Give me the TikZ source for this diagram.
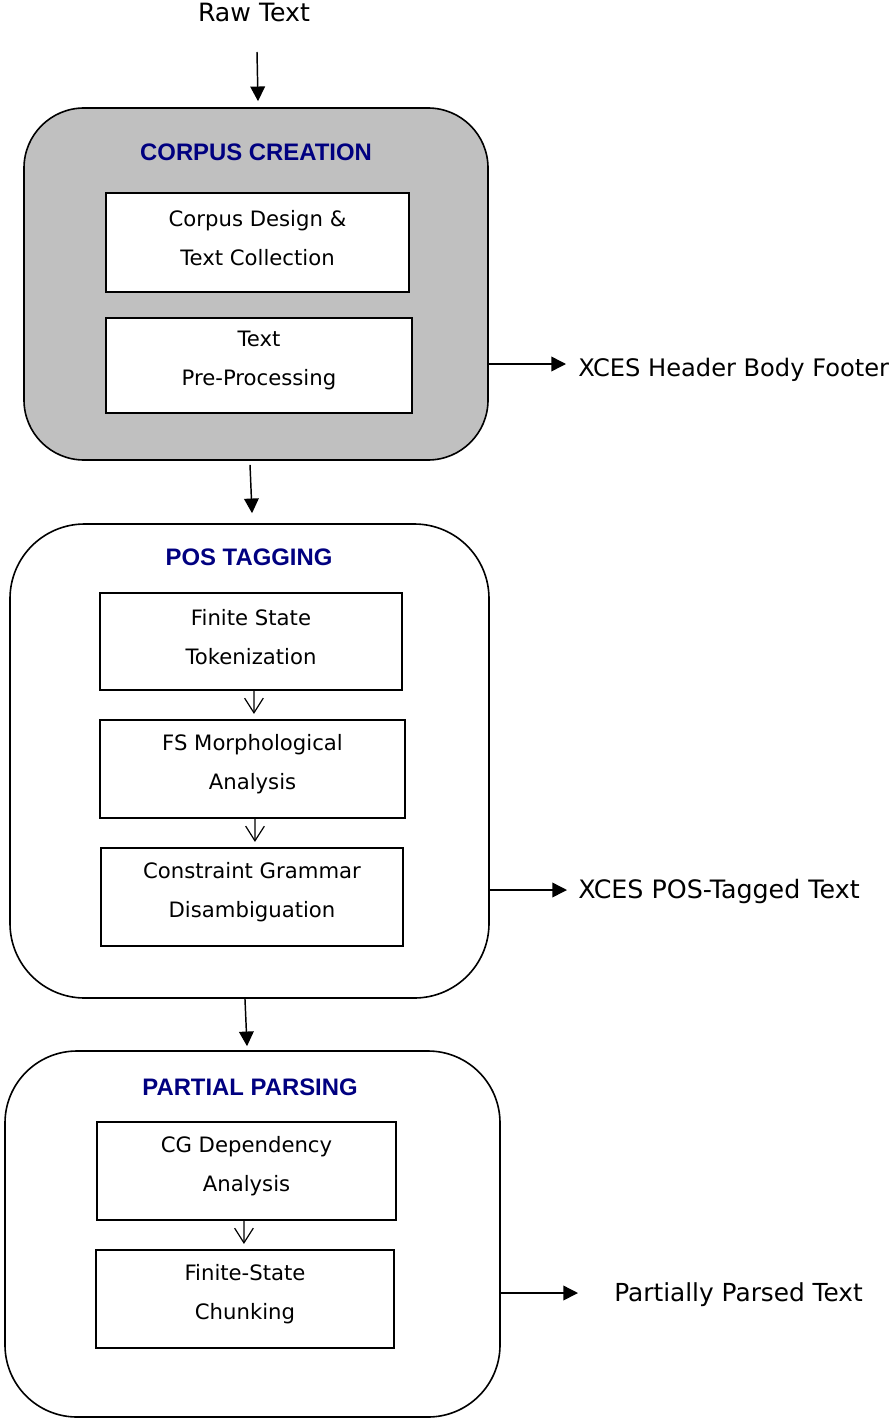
\documentclass[tikz,border=0pt]{standalone}
\usepackage{fontspec}
\setmainfont{DejaVu Sans}
\newfontfamily\titlefont{Liberation Sans}
\usetikzlibrary{arrows.meta}
\definecolor{titleblue}{RGB}{0,0,128}
\definecolor{stagegray}{RGB}{192,192,192}

\begin{document}
\begin{tikzpicture}[x=0.75pt,y=-0.75pt,
  stage/.style={draw,line width=1.2pt,rounded corners=#1,inner sep=0pt},
  stagetitle/.style={text=titleblue,font=\titlefont\bfseries\fontsize{17.9}{21}\selectfont},
  stepbox/.style={draw,line width=1.1pt,fill=white,inner sep=0pt},
  steptext/.style={align=center,inner sep=0pt,yshift=3.6pt,
    font=\fontsize{15.9}{29.3}\selectfont},
  sidelabel/.style={anchor=west,inner sep=0pt,font=\fontsize{#1}{21}\selectfont},
  bigarrow/.style={line width=1.1pt,-{Triangle[length=11pt,width=11pt]}},
  smallarrow/.style={line width=0.9pt,-{Straight Barb[length=11pt,width=14pt,line width=0.9pt]}}
]
\useasboundingbox (0,0) rectangle (890,1419);

% input text
\node[inner sep=0pt,font=\fontsize{18.9}{21}\selectfont] (raw) at (254,12) {Raw Text};

% stage 1: corpus creation
\node[stage=45pt,fill=stagegray,minimum width=348pt,minimum height=264pt] (box1) at (256,284) {};
\node[stagetitle] (t1) at (256,152) {CORPUS CREATION};
\node[stepbox,minimum width=227.25pt,minimum height=74.25pt] (s11) at (257.5,242.5) {};
\node[steptext] (s11t) at (s11.center) {Corpus Design \&\\Text Collection};
\node[stepbox,minimum width=229.5pt,minimum height=71.25pt] (s12) at (259,365.5) {};
\node[steptext] (s12t) at (s12.center) {Text\\Pre-Processing};

% stage 2: POS tagging
\node[stage=56pt,minimum width=359.25pt,minimum height=355.5pt] (box2) at (249.5,761) {};
\node[stagetitle] (t2) at (249,557) {POS TAGGING};
\node[stepbox,minimum width=226.5pt,minimum height=72.75pt] (s21) at (251,641.5) {};
\node[steptext] (s21t) at (s21.center) {Finite State\\Tokenization};
\node[stepbox,minimum width=228.75pt,minimum height=73.5pt] (s22) at (252.5,769) {};
\node[steptext] (s22t) at (s22.center) {FS Morphological\\Analysis};
\node[stepbox,minimum width=226.5pt,minimum height=73.5pt] (s23) at (252,897) {};
\node[steptext] (s23t) at (s23.center) {Constraint Grammar\\Disambiguation};

% stage 3: partial parsing
\node[stage=54pt,minimum width=371.25pt,minimum height=274.5pt] (box3) at (252.5,1234) {};
\node[stagetitle] (t3) at (250,1087) {PARTIAL PARSING};
\node[stepbox,minimum width=224.25pt,minimum height=73.5pt] (s31) at (246.5,1171) {};
\node[steptext] (s31t) at (s31.center) {CG Dependency\\Analysis};
\node[stepbox,minimum width=223.5pt,minimum height=73.5pt] (s32) at (245,1299) {};
\node[steptext] (s32t) at (s32.center) {Finite-State\\Chunking};

% outputs
\node[sidelabel=18.1] (out1) at (578,370) {XCES Header Body Footer};
\node[sidelabel=19] (out2) at (578,892) {XCES POS-Tagged Text};
\node[sidelabel=18.6] (out3) at (614,1295) {Partially Parsed Text};
\coordinate (o1) at (566,364);
\coordinate (o2) at (567,890);
\coordinate (o3) at (578,1293);
\coordinate (rawend) at (257,52);

% flow between stages
\draw[bigarrow] (rawend) -- ([xshift=1.5pt,yshift=4.5pt]box1.north);
\draw[bigarrow] ([xshift=-4.5pt,yshift=-3pt]box1.south) -- ([xshift=1.9pt,yshift=7.5pt]box2.north);
\draw[bigarrow] ([xshift=-3.4pt]box2.south) -- ([xshift=-4.1pt,yshift=3pt]box3.north);

% outputs of each stage
\draw[bigarrow] (box1.east |- o1) -- (o1);
\draw[bigarrow] (box2.east |- o2) -- (o2);
\draw[bigarrow] (box3.east |- o3) -- (o3);

% flow inside stages
\draw[smallarrow] ([xshift=2.2pt]s21.south) -- ([xshift=1.1pt,yshift=4pt]s22.north);
\draw[smallarrow] ([xshift=1.9pt]s22.south) -- ([xshift=2.2pt,yshift=4pt]s23.north);
\draw[smallarrow] ([xshift=-1.9pt]s31.south) -- ([xshift=-0.8pt,yshift=4pt]s32.north);
\end{tikzpicture}
\end{document}
